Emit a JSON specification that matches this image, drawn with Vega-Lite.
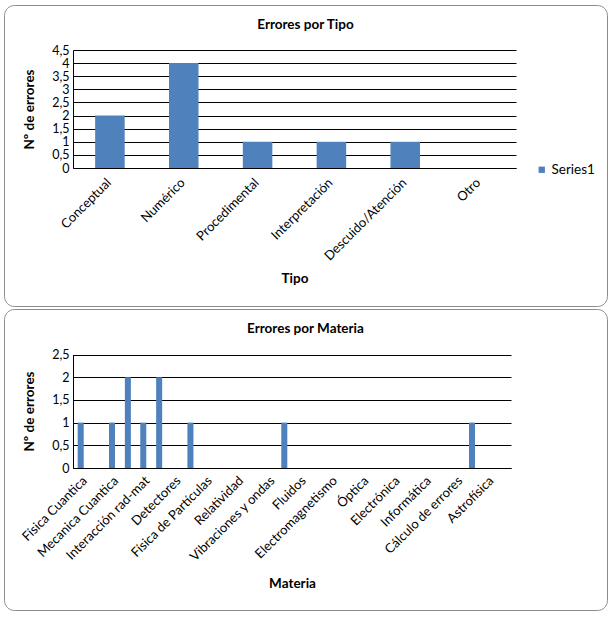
{
  "$schema": "https://vega.github.io/schema/vega-lite/v6.json",
  "padding": {"left": 3, "top": 4, "right": 0, "bottom": 0},
  "background": "white",
  "spacing": 1,
  "vconcat": [
    {
      "width": 603,
      "height": 301,
      "title": {"text": "Errores por Tipo", "frame": "group", "anchor": "middle", "offset": -22, "dy": 15, "baseline": "alphabetic", "fontSize": 13.5, "font": "Lato", "fontWeight": "bold", "color": "#000000"},
      "data": {"values": [
        {"tipo": "Conceptual", "errores": 2},
        {"tipo": "Numérico", "errores": 4},
        {"tipo": "Procedimental", "errores": 1},
        {"tipo": "Interpretación", "errores": 1},
        {"tipo": "Descuido/Atención", "errores": 1},
        {"tipo": "Otro", "errores": 0}
      ]},
      "mark": {"type": "bar"},
      "encoding": {
        "x": {
          "field": "tipo", "type": "nominal", "sort": null,
          "scale": {"domain": ["Conceptual", "Numérico", "Procedimental", "Interpretación", "Descuido/Atención", "Otro"], "range": [69, 512], "paddingInner": 0.6, "paddingOuter": 0.3},
          "axis": {"title": "Tipo", "offset": -138, "labelAngle": -45, "labelFont": "Lato", "labelFontSize": 13, "labelColor": "#000000", "labelOverlap": false, "labelOffset": -5, "ticks": false, "domainColor": "#000000", "domainWidth": 1, "labelPadding": 8, "grid": false, "titleFont": "Lato", "titleFontSize": 13.5, "titleFontWeight": "bold", "titleColor": "#000000", "titleY": 110, "titleBaseline": "middle"}
        },
        "y": {
          "field": "errores", "type": "quantitative",
          "scale": {"domain": [0, 4.5], "range": [163, 45], "nice": false, "zero": true},
          "axis": {"title": "Nº de errores", "values": [0, 0.5, 1, 1.5, 2, 2.5, 3, 3.5, 4, 4.5], "labelExpr": "replace(format(datum.value, '~g'), '.', ',')", "offset": -69, "grid": true, "gridColor": "#000000", "gridWidth": 1, "gridOpacity": 1, "domainColor": "#000000", "ticks": false, "labelFont": "Lato", "labelFontSize": 12.5, "labelColor": "#000000", "labelPadding": 4, "labelOverlap": false, "titleFont": "Lato", "titleFontSize": 13.5, "titleFontWeight": "bold", "titleColor": "#000000", "titleX": -44, "titleY": 104, "titleAngle": -90, "titleBaseline": "middle", "titleAlign": "center"}
        },
        "color": {
          "datum": "Series1",
          "scale": {"range": ["#4F81BD"]},
          "legend": {"orient": "none", "legendX": 531, "legendY": 158, "title": null, "symbolType": "square", "symbolSize": 40, "symbolStrokeWidth": 0, "labelFont": "Lato", "labelFontSize": 13.5, "labelColor": "#000000", "labelOffset": 3}
        }
      }
    },
    {
      "width": 603,
      "height": 301,
      "title": {"text": "Errores por Materia", "frame": "group", "anchor": "middle", "offset": -22, "dy": 15, "baseline": "alphabetic", "fontSize": 13.5, "font": "Lato", "fontWeight": "bold", "color": "#000000"},
      "data": {"values": [
        {"materia": "Física Cuantica", "grupo": "1", "errores": 1},
        {"materia": "Mecanica Cuantica", "grupo": "1", "errores": 1},
        {"materia": "Mecanica Cuantica", "grupo": "2", "errores": 2},
        {"materia": "Interacción rad-mat", "grupo": "1", "errores": 1},
        {"materia": "Interacción rad-mat", "grupo": "2", "errores": 2},
        {"materia": "Detectores", "grupo": "2", "errores": 1},
        {"materia": "Vibraciones y ondas", "grupo": "2", "errores": 1},
        {"materia": "Cálculo de errores", "grupo": "2", "errores": 1}
      ]},
      "mark": {"type": "bar"},
      "encoding": {
        "x": {
          "field": "materia", "type": "nominal", "sort": null,
          "scale": {"domain": ["Física Cuantica", "Mecanica Cuantica", "Interacción rad-mat", "Detectores", "Física de Partículas", "Relatividad", "Vibraciones y ondas", "Fluidos", "Electromagnetismo", "Óptica", "Electrónica", "Informática", "Cálculo de errores", "Astrofísica"], "range": [69, 507], "paddingInner": 0.3, "paddingOuter": 0.15},
          "axis": {"title": "Materia", "offset": -142, "labelAngle": -45, "labelFont": "Lato", "labelFontSize": 13, "labelColor": "#000000", "labelOverlap": false, "labelOffset": -8, "ticks": false, "domainColor": "#000000", "domainWidth": 1, "labelPadding": 6, "grid": false, "titleFont": "Lato", "titleFontSize": 13.5, "titleFontWeight": "bold", "titleColor": "#000000", "titleY": 115, "titleBaseline": "middle"}
        },
        "xOffset": {
          "field": "grupo", "type": "nominal",
          "scale": {"domain": ["1", "2"], "paddingInner": 0.62, "paddingOuter": 0}
        },
        "y": {
          "field": "errores", "type": "quantitative",
          "scale": {"domain": [0, 2.5], "range": [159, 45.5], "nice": false, "zero": true},
          "axis": {"title": "Nº de errores", "values": [0, 0.5, 1, 1.5, 2, 2.5], "labelExpr": "replace(format(datum.value, '~g'), '.', ',')", "offset": -69, "grid": true, "gridColor": "#000000", "gridWidth": 1, "gridOpacity": 1, "domainColor": "#000000", "ticks": false, "labelFont": "Lato", "labelFontSize": 12.5, "labelColor": "#000000", "labelPadding": 4, "labelOverlap": false, "titleFont": "Lato", "titleFontSize": 13.5, "titleFontWeight": "bold", "titleColor": "#000000", "titleX": -44, "titleY": 102, "titleAngle": -90, "titleBaseline": "middle", "titleAlign": "center"}
        },
        "color": {
          "datum": "Series1",
          "scale": {"range": ["#4F81BD"]},
          "legend": {"orient": "none", "legendX": 531, "legendY": 157, "title": null, "symbolType": "square", "symbolSize": 40, "symbolStrokeWidth": 0, "labelFont": "Lato", "labelFontSize": 13.5, "labelColor": "#000000", "labelOffset": 3}
        }
      }
    }
  ],
  "config": {
    "view": {"stroke": "#8c8c8c", "strokeWidth": 1, "cornerRadius": 10},
    "font": "Lato"
  }
}
